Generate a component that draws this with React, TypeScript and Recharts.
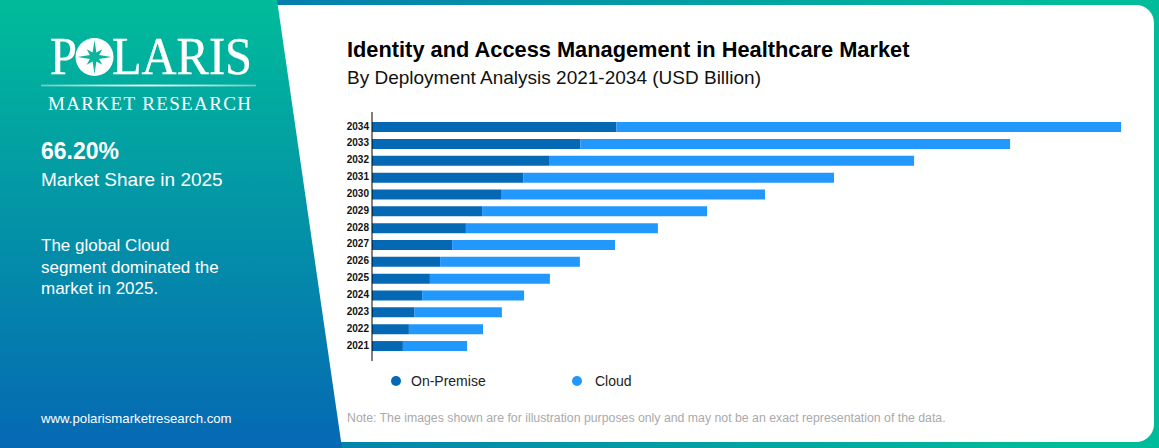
import React from 'react';
import { BarChart, Bar, XAxis, YAxis, Legend } from 'recharts';

const years = ['2034', '2033', '2032', '2031', '2030', '2029', '2028', '2027', '2026', '2025', '2024', '2023', '2022', '2021'];
const onPremise = [8.15, 6.95, 5.9, 5.04, 4.3, 3.67, 3.13, 2.67, 2.27, 1.93, 1.67, 1.42, 1.23, 1.03];
const cloud = [16.82, 14.32, 12.17, 10.36, 8.8, 7.5, 6.4, 5.43, 4.66, 4.0, 3.4, 2.91, 2.47, 2.14];

const chartData = years.map((year, i) => ({ year, onPremise: onPremise[i], cloud: cloud[i] }));

const SANS = '"Liberation Sans", Arial, sans-serif';
const SERIF = '"Liberation Serif", serif';

// 8 point compass star for the logo
const starPoints = Array.from({ length: 16 }, (_, i) => {
  const a = (i * Math.PI) / 8 - Math.PI / 2;
  const r = i % 4 === 0 ? 17 : i % 2 === 0 ? 11 : 5;
  return `${(94.5 + r * Math.cos(a)).toFixed(1)},${(57 + r * Math.sin(a)).toFixed(1)}`;
}).join(' ');

function Logo() {
  return (
    <svg width={300} height={120} style={{ position: 'absolute', left: 0, top: 0 }}>
      <defs>
        <linearGradient id="rule" gradientUnits="userSpaceOnUse" x1="41" x2="256" y1="0" y2="0">
          <stop offset="0" stopColor="#fff" stopOpacity={0.4} />
          <stop offset="0.5" stopColor="#fff" />
          <stop offset="1" stopColor="#fff" stopOpacity={0.4} />
        </linearGradient>
      </defs>
      <text
        x={50}
        y={74}
        fontFamily={SERIF}
        fontSize={53}
        fill="#fff"
        stroke="#fff"
        strokeWidth={0.4}
        textLength={202}
        lengthAdjust="spacingAndGlyphs"
      >
        P<tspan fill="transparent" stroke="none">O</tspan>LARIS
      </text>
      <circle cx={94.5} cy={57} r={19} fill="#fff" />
      <polygon points={starPoints} fill="#0bb69c" />
      <rect x={41} y={84.6} width={215} height={1.8} fill="url(#rule)" />
      <text x={48} y={110} fontFamily={SERIF} fontSize={19} fill="#fff" textLength={203} lengthAdjust="spacing">
        MARKET RESEARCH
      </text>
    </svg>
  );
}

const legendPos: Record<string, React.CSSProperties> = {
  onPremise: { left: 0 },
  cloud: { left: 181 },
};

function renderLegend({ payload }: any) {
  return (
    <div style={{ position: 'relative', width: 300, height: 20 }}>
      {(payload || []).map((item: any) => (
        <div key={item.dataKey} style={{ position: 'absolute', top: 0, display: 'flex', alignItems: 'center', height: 20, ...legendPos[item.dataKey] }}>
          <span style={{ width: 10, height: 10, borderRadius: 5, background: item.color }} />
          <span style={{ marginLeft: item.dataKey === 'cloud' ? 13 : 10, fontSize: 14, color: '#222', fontFamily: SANS, whiteSpace: 'nowrap' }}>
            {item.value}
          </span>
        </div>
      ))}
    </div>
  );
}

function Chart() {
  return (
    <BarChart
      width={800}
      height={290}
      data={chartData}
      layout="vertical"
      margin={{ top: 7, right: 18, bottom: 34, left: 0 }}
      style={{ position: 'absolute', left: 340, top: 105 }}
    >
      <XAxis type="number" domain={[0, 25]} hide />
      <YAxis
        type="category"
        dataKey="year"
        width={32}
        padding={{ top: 7.1, bottom: 6.1 }}
        interval={0}
        tickLine={false}
        tickSize={0}
        tickMargin={3}
        axisLine={{ stroke: '#000', strokeWidth: 1 }}
        tick={{ fill: '#111', fontSize: 10, fontWeight: 700, fontFamily: SANS, dy: -1.5 }}
      />
      <Legend
        verticalAlign="middle"
        content={renderLegend}
        wrapperStyle={{ left: 51, top: 266, width: 300, height: 20 }}
      />
      <Bar dataKey="onPremise" name="On-Premise" stackId="a" fill="#0568b5" barSize={10} isAnimationActive={false} />
      <Bar dataKey="cloud" name="Cloud" stackId="a" fill="#2298fc" barSize={10} isAnimationActive={false} />
    </BarChart>
  );
}

const text = (left: number, top: number, fontSize: number, extra: React.CSSProperties = {}): React.CSSProperties => ({
  position: 'absolute',
  left,
  top,
  fontSize,
  fontFamily: SANS,
  whiteSpace: 'nowrap',
  ...extra,
});

export default function App() {
  return (
    <div style={styles.page}>
      <div style={styles.panel} />
      <div style={styles.side} />
      <Logo />
      <div style={text(41, 138, 23, { color: '#fff', fontWeight: 700 })}>66.20%</div>
      <div style={text(41, 169, 19, { color: '#fff' })}>Market Share in 2025</div>
      <div style={text(41, 235, 17, { color: '#fff', lineHeight: '21.7px' })}>
        The global Cloud<br />segment dominated the<br />market in 2025.
      </div>
      <div style={text(41, 411, 13.2, { color: '#fff' })}>www.polarismarketresearch.com</div>

      <div style={text(347, 37, 21.8, { color: '#000', fontWeight: 700 })}>Identity and Access Management in Healthcare Market</div>
      <div style={text(347, 67, 19, { color: '#111' })}>By Deployment Analysis 2021-2034 (USD Billion)</div>
      <Chart />
      <div style={text(347, 411, 12.3, { color: '#aaa' })}>
        Note: The images shown are for illustration purposes only and may not be an exact representation of the data.
      </div>
    </div>
  );
}

const styles: Record<string, React.CSSProperties> = {
  page: {
    position: 'absolute',
    left: 0,
    top: 0,
    width: 1159,
    height: 448,
    overflow: 'hidden',
    background: 'linear-gradient(90deg, #0668b4 0px, #00bc9a 1060px)',
  },
  panel: {
    position: 'absolute',
    left: 260,
    top: 5,
    width: 894,
    height: 437,
    background: '#fff',
    borderRadius: '0 18px 18px 0',
  },
  side: {
    position: 'absolute',
    left: 0,
    top: 0,
    width: 342,
    height: 448,
    clipPath: 'polygon(0 0, 277px 0, 342px 448px, 0 448px)',
    background: 'linear-gradient(180deg, #00bc9a 0%, #0668b4 100%)',
  },
};
